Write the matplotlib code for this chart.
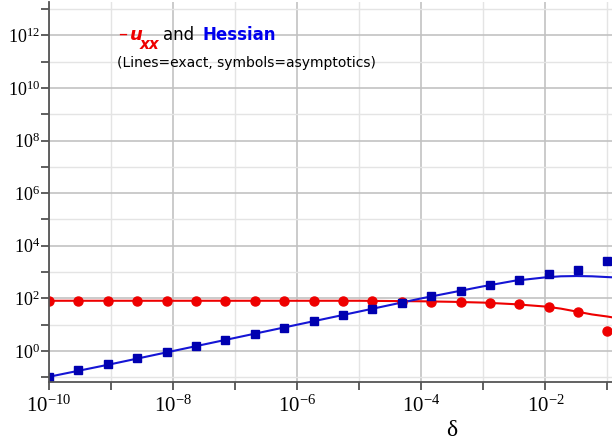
import numpy as np
import matplotlib.pyplot as plt
from matplotlib.ticker import FixedLocator, NullFormatter

plt.rcParams['font.family'] = ['Liberation Serif', 'DejaVu Sans']

# symbols (asymptotics): log10 of delta and of the values
sym_logdelta = [-10.0, -9.526, -9.053, -8.579, -8.105, -7.632, -7.158, -6.684, -6.211, -5.737,
                -5.263, -4.789, -4.316, -3.842, -3.368, -2.895, -2.421, -1.947, -1.474, -1.0]
uxx_sym = [1.90, 1.90, 1.90, 1.90, 1.90, 1.90, 1.90, 1.90, 1.90, 1.90,
           1.90, 1.89, 1.88, 1.87, 1.87, 1.84, 1.78, 1.66, 1.48, 0.75]
hess_sym = [-0.98, -0.73, -0.50, -0.28, -0.03, 0.20, 0.43, 0.65, 0.89, 1.13,
            1.37, 1.61, 1.84, 2.09, 2.29, 2.50, 2.71, 2.92, 3.07, 3.43]

# lines (exact)
line_logdelta = [-10, -9, -8, -7, -6, -5, -4.5, -4, -3.5, -3, -2.5, -2, -1.75, -1.5, -1.25, -1, -0.9]
uxx_exact = [1.91, 1.91, 1.91, 1.91, 1.91, 1.91, 1.90, 1.89, 1.87, 1.84, 1.78, 1.69, 1.61, 1.50, 1.39, 1.31, 1.27]
hess_exact = [-0.98, -0.50, 0.0, 0.50, 1.0, 1.50, 1.75, 2.00, 2.23, 2.46, 2.67, 2.80, 2.84, 2.85, 2.84, 2.81, 2.80]

red = '#EE0000'
blue = '#1515D5'
blue_sym = '#0000B0'

fig = plt.figure(figsize=(6.12, 4.47), dpi=100)
ax = fig.add_axes([49 / 612, 65 / 447, 563 / 612, 380 / 447])

ax.plot(10.0 ** np.array(line_logdelta), 10.0 ** np.array(uxx_exact), color=red, lw=1.5)
ax.plot(10.0 ** np.array(line_logdelta), 10.0 ** np.array(hess_exact), color=blue, lw=1.5)
ax.plot(10.0 ** np.array(sym_logdelta), 10.0 ** np.array(uxx_sym), 'o', color=red, ms=6.5, mec=red)
ax.plot(10.0 ** np.array(sym_logdelta), 10.0 ** np.array(hess_sym), 's', color=blue_sym, ms=5.8, mec=blue_sym)

ax.set_xscale('log')
ax.set_yscale('log')
ax.set_xlim(1e-10, 10 ** -0.927)
ax.set_ylim(10 ** -1.179, 10 ** 13.27)

ax.set_xticks([10.0 ** k for k in range(-10, 0, 2)])
ax.xaxis.set_minor_locator(FixedLocator([10.0 ** k for k in range(-9, 0, 2)]))
ax.xaxis.set_minor_formatter(NullFormatter())
ax.set_yticks([10.0 ** k for k in range(0, 14, 2)])
ax.yaxis.set_minor_locator(FixedLocator([10.0 ** k for k in range(-1, 14, 2)]))
ax.yaxis.set_minor_formatter(NullFormatter())

ax.grid(which='major', color='#C2C2C2', lw=1.2)
ax.grid(which='minor', color='#E4E4E4', lw=1.0)
ax.set_axisbelow(True)

for s in ['top', 'right']:
    ax.spines[s].set_visible(False)
for s in ['left', 'bottom']:
    ax.spines[s].set_color('#555555')
    ax.spines[s].set_linewidth(1.3)
ax.tick_params(which='both', direction='out', length=5.5, width=1.2, color='#444444')
ax.tick_params(axis='y', labelsize=13, pad=1)
ax.tick_params(axis='x', labelsize=15, pad=4)

ax.set_xlabel('δ', fontsize=17)
ax.xaxis.set_label_coords((452 - 49) / 563, -0.10)

def fx(px):
    return px / 612

def fy(py):
    return 1 - py / 447

sans = 'DejaVu Sans'
fig.text(fx(118), fy(39), '\u2013', color=red, fontsize=13, family=sans, va='baseline')
fig.text(fx(130), fy(40), 'u', color=red, fontsize=13, family=sans, style='italic',
         weight='bold', va='baseline')
fig.text(fx(140), fy(49), 'xx', color=red, fontsize=11, family=sans, style='italic',
         weight='bold', va='baseline')
fig.text(fx(163), fy(40), 'and', color='black', fontsize=12, family=sans, va='baseline')
fig.text(fx(203), fy(40), 'Hessian', color='#0000EE', fontsize=12, family=sans,
         weight='bold', va='baseline')
fig.text(fx(117), fy(67), '(Lines=exact, symbols=asymptotics)', color='black', fontsize=10,
         family=sans, va='baseline')

plt.savefig('out.png', dpi=100)
